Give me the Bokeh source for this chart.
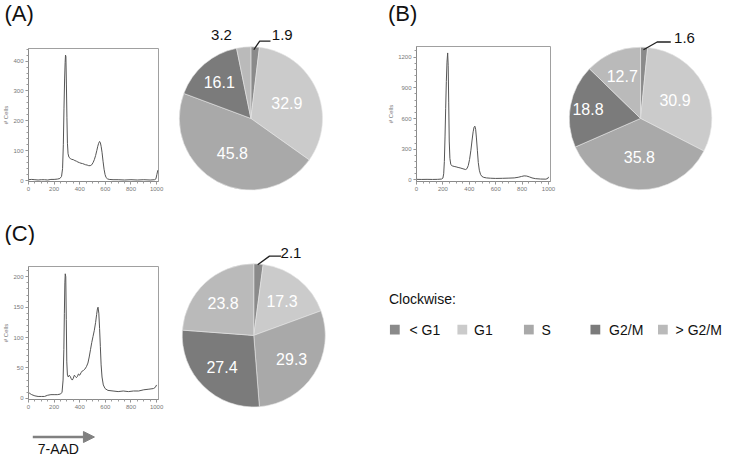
import numpy as np
from bokeh.plotting import figure
from bokeh.layouts import row, column
from bokeh.models import Range1d, FixedTicker, Arrow, NormalHead, ColumnDataSource
from bokeh.core.properties import value
from bokeh.embed import file_html
from bokeh.resources import INLINE

# ---------------- data ----------------
phases = ["< G1", "G1", "S", "G2/M", "> G2/M"]
phase_colors = ["#8a8a8a", "#cbcbcb", "#a9a9a9", "#7b7b7b", "#bababa"]

pie_a = [1.9, 32.9, 45.8, 16.1, 3.2]
pie_b = [1.6, 30.9, 35.8, 18.8, 12.7]
pie_c = [2.1, 17.3, 29.3, 27.4, 23.8]

panel_letters = ["(A)", "(B)", "(C)"]
x_axis_name = "7-AAD"

x_ticks = [0, 200, 400, 600, 800, 1000]
x_tick_labels = ["0", "200", "400", "600", "800", "1000"]

hist_a_x = [0, 25, 50, 75, 100, 125, 150, 175, 200, 225, 245, 258, 266, 272, 277, 282, 286, 289, 292, 296,
            300, 304, 309, 316, 326, 338, 350, 362, 374, 386, 398, 410, 422, 434, 446, 458, 470, 482, 494, 504,
            514, 524, 533, 541, 548, 555, 561, 567, 574, 582, 590, 598, 606, 616, 630, 660, 700, 750, 800, 850,
            900, 950, 985, 995, 1002, 1010]
hist_a_y = [3, 4, 3, 2, 3, 3, 2, 4, 4, 5, 7, 14, 40, 120, 240, 340, 395, 420, 415, 320,
            210, 125, 90, 78, 74, 71, 70, 67, 65, 62, 60, 58, 57, 55, 53, 52, 50, 50, 53, 60,
            70, 84, 100, 115, 125, 131, 127, 115, 95, 65, 38, 20, 10, 6, 4, 3, 3, 2, 3, 2,
            3, 2, 3, 6, 20, 35]
hist_a_yticks = [0, 100, 200, 300, 400]

hist_b_x = [0, 40, 80, 120, 160, 190, 200, 206, 211, 216, 221, 226, 231, 236, 240, 244, 248, 253, 260, 270,
            285, 300, 315, 330, 345, 360, 372, 382, 392, 402, 412, 421, 429, 436, 442, 448, 454, 461, 468, 476,
            485, 495, 510, 530, 560, 600, 650, 700, 740, 770, 795, 815, 835, 855, 875, 900, 940, 980, 995, 1000]
hist_b_y = [6, 5, 6, 5, 6, 9, 18, 60, 180, 420, 700, 960, 1150, 1240, 1120, 760, 380, 210, 150, 138,
            132, 128, 122, 118, 112, 106, 102, 110, 140, 200, 290, 390, 470, 515, 525, 495, 410, 290, 170, 95,
            55, 35, 25, 20, 17, 15, 16, 18, 20, 26, 34, 40, 38, 30, 20, 13, 9, 8, 15, 30]
hist_b_yticks = [0, 300, 600, 900, 1200]

hist_c_x = [0, 10, 25, 50, 75, 100, 125, 150, 175, 200, 225, 250, 262, 270, 276, 280, 284, 287, 291, 295,
            299, 304, 311, 318, 326, 334, 342, 350, 358, 366, 374, 382, 390, 400, 410, 420, 430, 440, 452, 464,
            474, 484, 494, 504, 514, 524, 532, 538, 543, 549, 555, 561, 567, 574, 584, 598, 620, 660, 700, 740,
            780, 820, 860, 900, 940, 975, 990, 1000]
hist_c_y = [10, 8, 6, 4, 3, 3, 3, 5, 6, 6, 6, 7, 10, 30, 80, 140, 190, 205, 200, 130,
            60, 38, 35, 38, 36, 32, 30, 33, 38, 36, 34, 36, 40, 38, 42, 45, 46, 48, 52, 58,
            68, 80, 92, 102, 112, 125, 138, 147, 150, 140, 115, 85, 55, 35, 22, 16, 13, 12, 11, 12,
            11, 12, 12, 14, 15, 16, 18, 22]
hist_c_yticks = [0, 50, 100, 150, 200]

# ---------------- layout helpers ----------------
SX = 724 / 740
SY = 456 / 472
FONT = "Liberation Sans"


def P(v, s):
    return int(round(v * s))


def hist_fig(cell, frame, xr, yr, xs, ys, yticks, yminor):
    cx0, cy0, cx1, cy1 = cell
    fx0, fy0, fx1, fy1 = frame
    p = figure(title=None, x_range=Range1d(*xr), y_range=Range1d(*yr),
               width=P(cx1, SX) - P(cx0, SX), height=P(cy1, SY) - P(cy0, SY),
               output_backend="svg", toolbar_location=None, frame_align=False,
               min_border_left=P(fx0, SX) - P(cx0, SX), min_border_right=P(cx1, SX) - P(fx1, SX),
               min_border_top=P(fy0, SY) - P(cy0, SY), min_border_bottom=P(cy1, SY) - P(fy1, SY))
    p.line(xs, ys, line_color="#555555", line_width=1.0)
    p.grid.visible = False
    p.outline_line_color = "#a0a0a0"
    p.outline_line_width = 1
    p.background_fill_color = "white"
    p.border_fill_color = "white"
    p.xaxis.ticker = FixedTicker(ticks=x_ticks, minor_ticks=list(range(0, 1001, 50)))
    p.xaxis.major_label_overrides = {t: l for t, l in zip(x_ticks, x_tick_labels)}
    p.yaxis.ticker = FixedTicker(ticks=yticks, minor_ticks=yminor)
    p.yaxis.axis_label = "# Cells"
    for ax in p.axis:
        ax.axis_line_color = "#8a8a8a"
        ax.major_tick_line_color = "#8a8a8a"
        ax.minor_tick_line_color = "#9a9a9a"
        ax.major_tick_out = 3
        ax.major_tick_in = 0
        ax.minor_tick_out = 2
        ax.minor_tick_in = 0
        ax.major_label_text_font_size = "6px"
        ax.major_label_text_color = "#777777"
        ax.major_label_text_font = FONT
        ax.major_label_standoff = 2
        ax.axis_label_text_font_size = "6px"
        ax.axis_label_text_font_style = "normal"
        ax.axis_label_text_color = "#777777"
        ax.axis_label_standoff = 1
    return p


def blank_fig(cell):
    cx0, cy0, cx1, cy1 = cell
    p = figure(title=None, x_range=Range1d(cx0, cx1), y_range=Range1d(-cy1, -cy0),
               width=P(cx1, SX) - P(cx0, SX), height=P(cy1, SY) - P(cy0, SY),
               output_backend="svg", toolbar_location=None, x_axis_type=None, y_axis_type=None,
               frame_align=False,
               min_border=0, min_border_left=0, min_border_right=0, min_border_top=0, min_border_bottom=0)
    p.grid.visible = False
    p.outline_line_color = None
    p.background_fill_color = "white"
    p.border_fill_color = "white"
    return p


def pie(p, vals, cx, cy, r, label_f, outside):
    tot = float(sum(vals))
    cum = np.concatenate([[0.0], np.cumsum(vals)]) / tot
    start = np.pi / 2 - 2 * np.pi * cum[:-1]
    end = np.pi / 2 - 2 * np.pi * cum[1:]
    src = ColumnDataSource(dict(start=start, end=end, color=phase_colors, phase=phases))
    p.wedge(x=cx, y=-cy, radius=r, start_angle="start", end_angle="end", direction="clock",
            fill_color="color", line_color="#e6e6e6", line_width=0.6, source=src)
    tx, ty, tt = [], [], []
    for i, f in enumerate(label_f):
        if f is None:
            continue
        mid = 2 * np.pi * (cum[i] + cum[i + 1]) / 2
        tx.append(cx + f * r * np.sin(mid))
        ty.append(-cy + f * r * np.cos(mid))
        tt.append(f"{vals[i]:.1f}")
    p.text(x=tx, y=ty, text=tt, text_align="center", text_baseline="middle",
           text_font=value(FONT), text_font_size="16px", text_color="white")
    for i, lx, ly, leader in outside:
        p.text(x=[lx], y=[-ly], text=[f"{vals[i]:.1f}"], text_align="center", text_baseline="middle",
               text_font=value(FONT), text_font_size="15px", text_color="#111111")
        if leader:
            p.line([q[0] for q in leader], [-q[1] for q in leader], line_color="#222222", line_width=1.3)


def letters(p, xs, ys, texts):
    p.text(x=xs, y=[-v for v in ys], text=texts, text_align="left", text_baseline="middle",
           text_font=value(FONT), text_font_size="22px", text_color="#111111")


# ---------------- top strip ----------------
s1 = blank_fig((0, 0, 740, 28))
letters(s1, [4, 396], [13, 13], panel_letters[:2])

# ---------------- row 1 ----------------
hA = hist_fig((0, 28, 172, 212), (25, 50, 162, 187), (0, 1015), (-3, 442),
              hist_a_x, hist_a_y, hist_a_yticks, list(range(0, 441, 20)))
pA = blank_fig((172, 28, 380, 212))
pie(pA, pie_a, 256, 122, 73, [None, 0.55, 0.55, 0.68, None],
    [(4, 226, 36, None), (0, 288, 36, [(259, 51), (265, 42), (276, 42)])])

hB = hist_fig((380, 28, 572, 212), (425, 48, 562, 187), (0, 1015), (-15, 1303),
              hist_b_x, hist_b_y, hist_b_yticks, list(range(0, 1301, 60)))
pB = blank_fig((572, 28, 740, 212))
pie(pB, pie_b, 654, 122, 73, [None, 0.55, 0.55, 0.75, 0.66],
    [(0, 699, 39, [(657, 51), (671, 43), (685, 43)])])

# ---------------- middle strip ----------------
s2 = blank_fig((0, 212, 740, 254))
letters(s2, [4], [241], panel_letters[2:])

# ---------------- row 2 ----------------
hC = hist_fig((0, 254, 172, 434), (24, 275, 162, 413), (0, 1015), (-2, 217),
              hist_c_x, hist_c_y, hist_c_yticks, list(range(0, 211, 10)))
pC = blank_fig((172, 254, 372, 434))
pie(pC, pie_c, 259, 347, 73, [None, 0.63, 0.63, 0.63, 0.63],
    [(0, 297, 262, [(263, 274), (275, 265), (287, 265)])])

leg = blank_fig((372, 254, 740, 434))
leg.text(x=[397], y=[-309], text=["Clockwise:"], text_align="left", text_baseline="middle",
         text_font=value(FONT), text_font_size="14px", text_color="#111111")
sq_x = [403, 472, 540, 608, 677]
txt_x = [418, 484, 553, 622, 690]
leg.rect(x=sq_x, y=[-341] * 5, width=10, height=10, fill_color=phase_colors, line_color=None)
leg.text(x=txt_x, y=[-341] * 5, text=phases, text_align="left", text_baseline="middle",
         text_font=value(FONT), text_font_size="14px", text_color="#111111")

# ---------------- bottom strip ----------------
s3 = blank_fig((0, 434, 740, 472))
s3.add_layout(Arrow(x_start=33, y_start=-452, x_end=96, y_end=-452,
                    line_color="#808080", line_width=2.5,
                    end=NormalHead(size=11, fill_color="#808080", line_color="#808080")))
s3.text(x=[38], y=[-464], text=[x_axis_name], text_align="left", text_baseline="middle",
        text_font=value(FONT), text_font_size="14px", text_color="#111111")

layout = column(s1, row(hA, pA, hB, pB), s2, row(hC, pC, leg), s3)

open("out.html", "w").write(file_html(layout, INLINE))
